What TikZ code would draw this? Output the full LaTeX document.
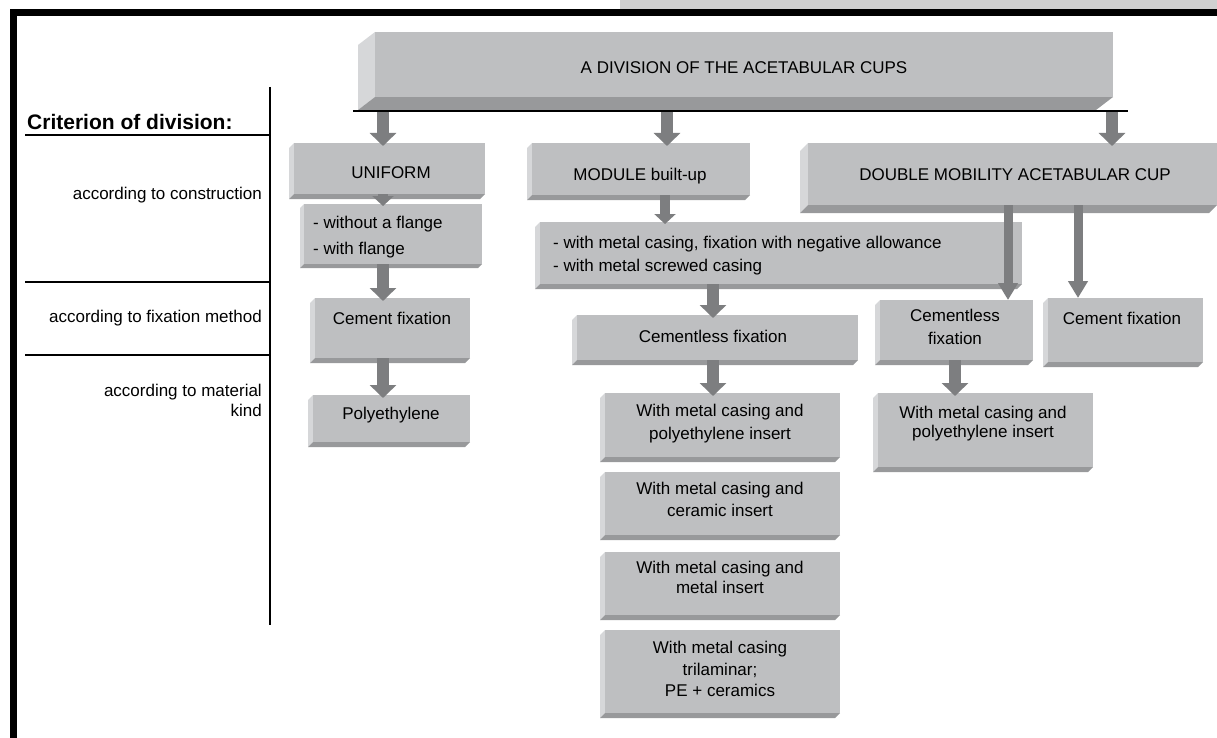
\documentclass[tikz,border=0pt]{standalone}
\usepackage{fontspec}
\setmainfont{Liberation Sans}
\usetikzlibrary{arrows.meta,fit}
\definecolor{facec}{RGB}{190,191,193}
\definecolor{bevl}{RGB}{214,215,217}
\definecolor{bevd}{RGB}{152,153,155}
\definecolor{arrc}{RGB}{125,126,128}
\definecolor{bandc}{RGB}{208,208,208}
\tikzset{
  face/.style={fill=facec, inner sep=0pt, outer sep=0pt},
  bevL/.style={fill=bevl},
  bevD/.style={fill=bevd},
  txt/.style={inner sep=0pt, font=\fontsize{17}{23}\selectfont, align=center, anchor=north},
  ltxt/.style={inner sep=0pt, font=\fontsize{17}{26}\selectfont, align=left, anchor=north west},
  crit/.style={inner sep=0pt, font=\fontsize{17}{20}\selectfont},
  rule/.style={line width=1.5pt, black},
  barrow/.style={draw=arrc, line width=12pt, -{Triangle[width=26pt,length=13pt]}, shorten >=-3pt},
  sarrow/.style={draw=arrc, line width=10pt, -{Triangle[width=21pt,length=10pt]}, shorten >=-2pt},
  larrow/.style={draw=arrc, line width=9pt, -{Triangle[width=19pt,length=17pt]}},
}
% name, x1, y1, x2, y2, dx, dy
\newcommand\bbox[7]{%
  \fill[bevL] (#2,#3) -- ({#2-#6},{#3+#7}) -- ({#2-#6},{#5+#7}) -- (#2,#5) -- cycle;
  \fill[bevD] ({#2-#6},{#5+#7}) -- (#2,#5) -- (#4,#5) -- ({#4-#6},{#5+#7}) -- cycle;
  \node[face, fit={(#2,#3) (#4,#5)}] (#1) {};
}
\begin{document}
\begin{tikzpicture}[x=1pt,y=-1pt]
\useasboundingbox (0,0) rectangle (1217,738);
\fill[white] (0,0) rectangle (1217,738);
% frame
\fill[bandc] (620,0) rectangle (1217,9.5);
\fill[black] (10,9.5) rectangle (1217,16.5);
\fill[black] (10,9.5) rectangle (17,738);

% boxes
\bbox{top}{375}{32}{1113}{97}{17}{13}
\bbox{uni}{294}{143}{485}{194}{5}{5}
\bbox{mod}{532}{143}{750}{195}{5}{5}
\bbox{dbl}{808}{143}{1217}{205}{8}{8}
\bbox{unil}{304}{204}{482}{264}{4}{4}
\bbox{modl}{540}{222}{1022}{284}{5}{5}
\bbox{ucf}{315}{298}{470}{358}{5}{5}
\bbox{upe}{313}{395}{470}{442}{5}{5}
\bbox{mcl}{577}{315}{858}{360}{5}{5}
\bbox{dcl}{880}{300}{1033}{360}{5}{5}
\bbox{dcf}{1048}{298}{1203}{362}{5}{5}
\bbox{mpe}{605}{393}{840}{457}{5}{5}
\bbox{mce}{605}{472}{840}{535}{5}{5}
\bbox{mme}{605}{552}{840}{615}{5}{5}
\bbox{mtr}{605}{630}{840}{713}{5}{5}
\bbox{dpe}{878}{393}{1093}{467}{5}{5}

% texts in boxes
\node[txt] (ttop) at (744,61) {A DIVISION OF THE ACETABULAR CUPS};
\node[txt] (tuni) at (391,166) {UNIFORM};
\node[txt] (tmod) at (640,168) {MODULE built-up};
\node[txt] (tdbl) at (1015,168) {DOUBLE MOBILITY ACETABULAR CUP};
\node[ltxt] (tunil) at (313,216) {- without a flange\\- with flange};
\node[ltxt, font=\fontsize{17}{23}\selectfont] (tmodl) at (553,236) {- with metal casing, fixation with negative allowance\\- with metal screwed casing};
\node[txt] (tucf) at (392,312) {Cement fixation};
\node[txt] (tupe) at (391,407) {Polyethylene};
\node[txt] (tmcl) at (713,330) {Cementless fixation};
\node[txt] (tdcl) at (955,309) {Cementless\\fixation};
\node[txt] (tdcf) at (1122,312) {Cement fixation};
\node[txt] (tmpe) at (720,404) {With metal casing and\\polyethylene insert};
\node[txt, font=\fontsize{17}{22}\selectfont] (tmce) at (720,482) {With metal casing and\\ceramic insert};
\node[txt, font=\fontsize{17}{20}\selectfont] (tmme) at (720,561) {With metal casing and\\metal insert};
\node[txt, font=\fontsize{17}{21.5}\selectfont] (tmtr) at (720,641) {With metal casing\\trilaminar;\\PE + ceramics};
\node[txt, font=\fontsize{17}{19}\selectfont] (tdpe) at (983,406) {With metal casing and\\polyethylene insert};

% arrow columns
\coordinate (xa) at (383,0);
\coordinate (xb) at (667,0);
\coordinate (xc) at (1112,0);
\coordinate (xd) at (713,0);
\coordinate (xe) at (1008,0);
\coordinate (xf) at (1078,0);
\coordinate (xg) at (955,0);
\coordinate (xh) at (665,0);

\draw[barrow, shorten <=15pt] (top.south -| xa) -- (uni.north -| xa);
\draw[barrow, shorten <=15pt] (top.south -| xb) -- (mod.north -| xb);
\draw[barrow, shorten <=15pt] (top.south -| xc) -- (dbl.north -| xc);
\draw[sarrow] (uni.south -| xa) -- (unil.north -| xa);
\draw[sarrow] (mod.south -| xh) -- (modl.north -| xh);
\draw[larrow] (dbl.south -| xe) -- (dcl.north -| xe);
\draw[larrow] (dbl.south -| xf) -- (dcf.north -| xf);
\draw[barrow] (unil.south -| xa) -- (ucf.north -| xa);
\draw[barrow] (modl.south -| xd) -- (mcl.north -| xd);
\draw[barrow] (ucf.south -| xa) -- (upe.north -| xa);
\draw[barrow] (mcl.south -| xd) -- (mpe.north -| xd);
\draw[barrow] (dcl.south -| xg) -- (dpe.north -| xg);

% line under the top box
\draw[line width=1.5pt] (353,111) -- (1128,111);

% criterion column
\node[anchor=base west, inner sep=0pt, font=\bfseries\fontsize{21}{25}\selectfont] (crit) at (27,130) {Criterion of division:};
\node[crit, anchor=base east] (c1) at (262,200) {according to construction};
\node[crit, anchor=base east] (c2) at (262,322) {according to fixation method};
\node[crit, anchor=north east, align=right] (c3) at (262,384) {according to material\\kind};
\draw[rule] (25,135) -- (270,135);
\draw[rule] (270,87) -- (270,625);
\draw[rule] (25,282) -- (270,282);
\draw[rule] (25,355) -- (270,355);
\end{tikzpicture}
\end{document}
